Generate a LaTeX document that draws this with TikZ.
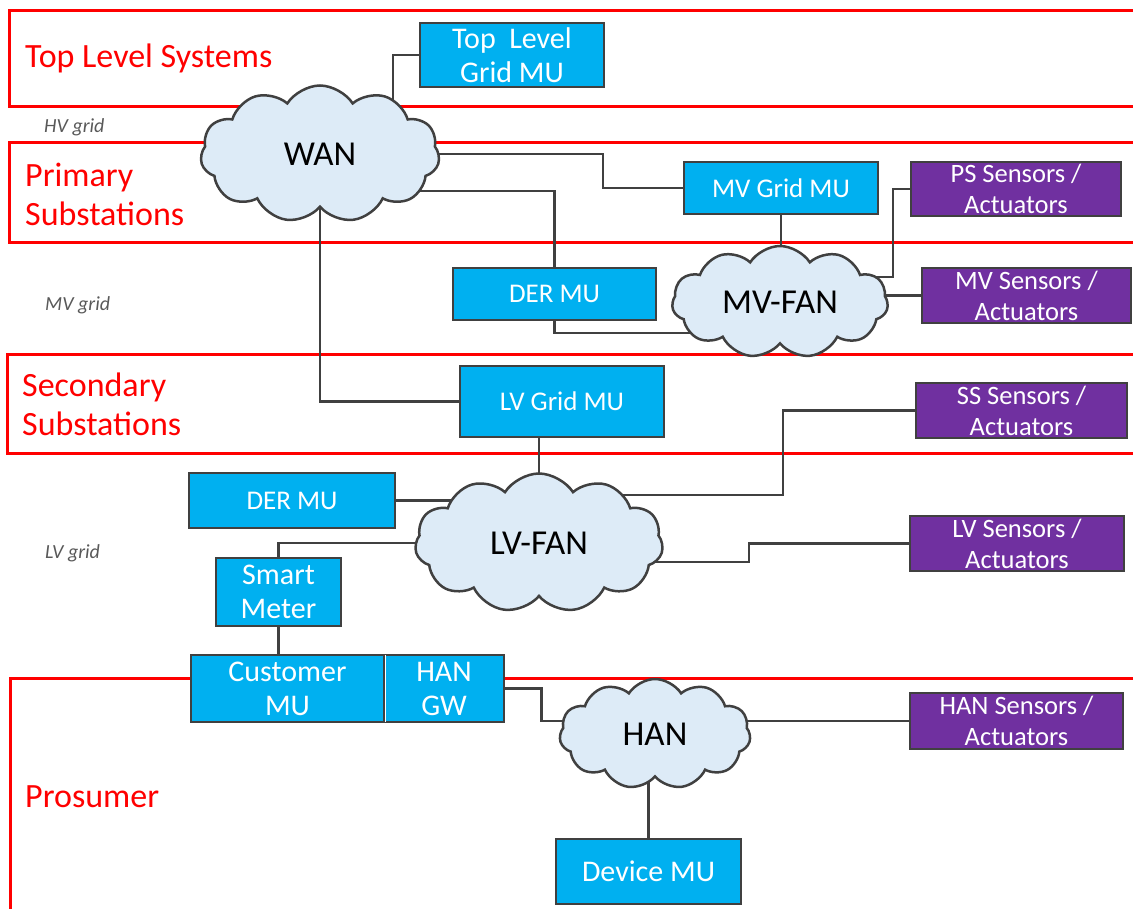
\documentclass[tikz,border=0pt]{standalone}
\usepackage{fontspec}
\setmainfont{Carlito}
\usetikzlibrary{shapes.symbols,backgrounds}
\definecolor{bandRed}{HTML}{FF0000}
\definecolor{muBlue}{HTML}{00B0F0}
\definecolor{sensPurple}{HTML}{7030A0}
\definecolor{cloudFill}{HTML}{DDEBF7}
\definecolor{edge}{HTML}{404040}
\definecolor{gridGrey}{HTML}{595959}

\begin{document}
\begin{tikzpicture}[x=1pt,y=-1pt,
    band/.style={draw=bandRed, line width=3pt},
    bandlabel/.style={text=bandRed, font=\fontsize{34}{39}\selectfont, align=left, inner sep=0pt},
    gridlabel/.style={text=gridGrey, font=\fontsize{20}{22}\selectfont\itshape, inner sep=0pt},
    mubox/.style={draw=edge, line width=2.5pt, fill=muBlue, text=white,
                  font=\fontsize{27}{32}\selectfont, align=center, inner sep=0pt},
    bigbox/.style={mubox, font=\fontsize{30}{34}\selectfont},
    sensbox/.style={mubox, fill=sensPurple, font=\fontsize{26.5}{31}\selectfont},
    netcloud/.style={cloud, cloud puffs=11, cloud puff arc=115, cloud ignores aspect,
                     draw=edge, line width=2.5pt, fill=cloudFill,
                     font=\fontsize{35}{38}\selectfont, inner sep=0pt},
    link/.style={draw=edge, line width=2.5pt}]
  \useasboundingbox (0,0) rectangle (1133,909);

  % level labels
  \node[bandlabel, anchor=base west] (tlsys) at (25,68) {Top Level Systems};
  \node[bandlabel, anchor=west] (pss) at (25,194) {Primary\\Substations};
  \node[bandlabel, anchor=west] (sss) at (22,404) {Secondary\\Substations};
  \node[bandlabel, anchor=base west] (pros) at (25,807) {Prosumer};
  \node[gridlabel, anchor=base west] (hvg) at (44,133) {HV grid};
  \node[gridlabel, anchor=base west] (mvg) at (45,311) {MV grid};
  \node[gridlabel, anchor=base west] (lvg) at (45,558) {LV grid};

  % networks
  \node[netcloud, minimum width=239pt, minimum height=137pt] (wan) at (320,154) {WAN\hspace{18pt}};
  \node[netcloud, minimum width=216pt, minimum height=112pt] (mvfan) at (780,302) {MV-FAN\hspace{14pt}};
  \node[netcloud, minimum width=248pt, minimum height=139pt] (lvfan) at (539,543) {LV-FAN\hspace{20pt}};
  \node[netcloud, minimum width=191pt, minimum height=110pt] (han) at (655,734) {HAN\hspace{12pt}};

  % management units
  \node[bigbox, minimum width=184pt, minimum height=64pt] (tlmu) at (512,55) {Top~~Level\\Grid~MU};
  \node[mubox, minimum width=194pt, minimum height=52pt] (mvmu) at (781,188) {MV Grid MU};
  \node[mubox, minimum width=203pt, minimum height=52pt] (derup) at (554.5,294) {DER MU};
  \node[mubox, minimum width=204pt, minimum height=71pt] (lvmu) at (562,401.5) {LV Grid MU};
  \node[mubox, minimum width=206pt, minimum height=55pt] (derlo) at (292,500.5) {DER MU};
  \node[bigbox, minimum width=125pt, minimum height=68pt] (sm) at (278.5,592) {Smart\\Meter};
  \node[bigbox, minimum width=193pt, minimum height=67pt] (cmu) at (287.5,688.5) {Customer\\MU};
  \node[bigbox, minimum width=120pt, minimum height=67pt] (hangw) at (444,688.5) {HAN\\GW};
  \node[bigbox, minimum width=185pt, minimum height=65pt] (dmu) at (648.5,871.5) {Device MU};
  \draw[white, line width=1.5pt] ([yshift=-1.5pt]cmu.north east) -- ([yshift=1.5pt]cmu.south east);

  % sensors / actuators
  \node[sensbox, minimum width=210pt, minimum height=54pt] (ps) at (1016,189) {PS Sensors /\\Actuators};
  \node[sensbox, minimum width=209pt, minimum height=55pt] (mvs) at (1026.5,295.5) {MV Sensors /\\Actuators};
  \node[sensbox, minimum width=211pt, minimum height=55pt] (ss) at (1021.5,410.5) {SS Sensors /\\Actuators};
  \node[sensbox, minimum width=214pt, minimum height=55pt] (lvs) at (1017,543.5) {LV Sensors /\\Actuators};
  \node[sensbox, minimum width=213pt, minimum height=56pt] (hans) at (1016.5,721) {HAN Sensors /\\Actuators};

  \begin{scope}[on background layer]
    % level bands
    \draw[band] (1133,11) -- (9,11) -- (9,107) -- (1133,107);
    \draw[band] (1133,143) -- (9,143) -- (9,243) -- (1133,243);
    \draw[band] (1133,355) -- (7,355) -- (7,453) -- (1133,453);
    \draw[band] (1133,678) -- (10,678) -- (10,909);

    % links
    \draw[link] (tlmu.west) -| ([xshift=73pt]wan.center);
    \draw[link] (wan.center) -- ++(283,0) |- (mvmu.west);
    \draw[link] ([yshift=-37pt]wan.center) -| (derup.north);
    \draw[link] (wan.center) |- (lvmu.west);
    \draw[link] (derup.south) |- ([yshift=-31pt]mvfan.center);
    \draw[link] (mvmu.south) -- (mvmu.south |- mvfan.center);
    \draw[link] ([yshift=25pt]mvfan.center) -- ++(113,0) |- (ps.west);
    \draw[link] (mvfan.center |- mvs.west) -- (mvs.west);
    \draw[link] (lvfan.center) -- (lvfan.center |- lvmu.south);
    \draw[link] (derlo.east) -- (derlo.east -| lvfan.center);
    \draw[link] (sm.north) |- (lvfan.center);
    \draw[link] ([yshift=48pt]lvfan.center) -- ++(244,0) |- (ss.west);
    \draw[link] ([yshift=-19pt]lvfan.center) -- ++(210,0) |- (lvs.west);
    \draw[link] (sm.south) -- (sm.south |- cmu.north);
    \draw[link] (hangw.east) -- ++(36,0) |- ([yshift=13pt]han.center);
    \draw[link] (han.center |- hans.west) -- (hans.west);
    \draw[link] (dmu.north) -- (dmu.north |- han.center);
  \end{scope}
\end{tikzpicture}
\end{document}
